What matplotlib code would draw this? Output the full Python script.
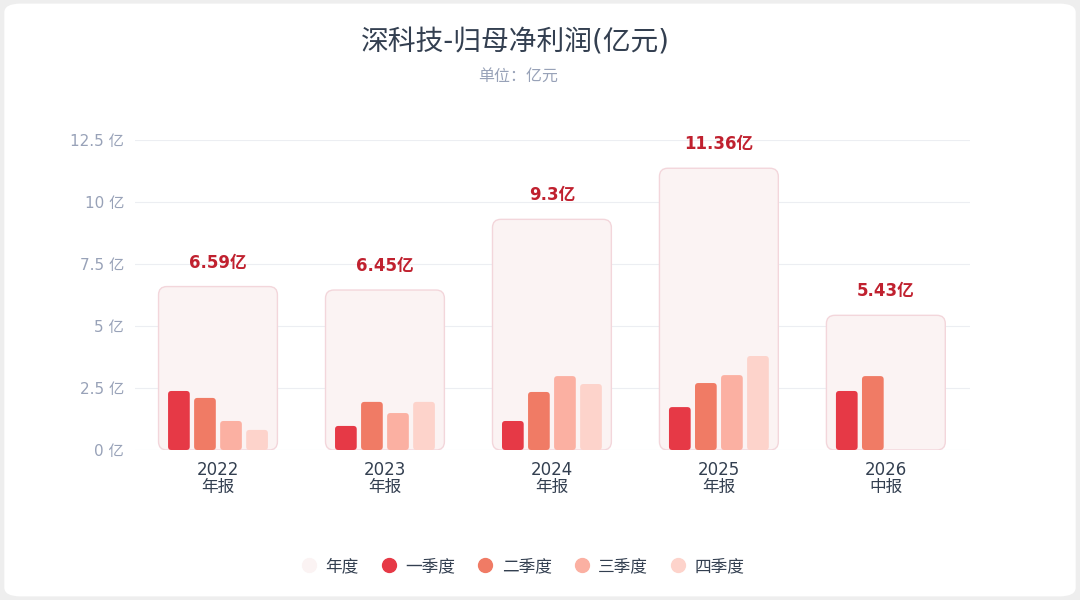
import matplotlib.pyplot as plt
from matplotlib.patches import FancyBboxPatch
from matplotlib.lines import Line2D

plt.rcParams['font.family'] = ['DejaVu Sans', 'Noto Sans CJK SC']

years = ['2022\n年报', '2023\n年报', '2024\n年报', '2025\n年报', '2026\n中报']
annual = [6.59, 6.45, 9.3, 11.36, 5.43]
annual_labels = ['6.59亿', '6.45亿', '9.3亿', '11.36亿', '5.43亿']
q1 = [2.38, 0.97, 1.17, 1.73, 2.38]
q2 = [2.10, 1.94, 2.34, 2.70, 2.98]
q3 = [1.17, 1.49, 2.98, 3.02, None]
q4 = [0.81, 1.94, 2.66, 3.79, None]
series_names = ['一季度', '二季度', '三季度', '四季度']
colors = ['#e63946', '#f07b65', '#fbb0a2', '#fdd3cb']
yticks = [0, 2.5, 5, 7.5, 10, 12.5]
ytick_labels = ['0 亿', '2.5 亿', '5 亿', '7.5 亿', '10 亿', '12.5 亿']

fig = plt.figure(figsize=(10.8, 6), dpi=100)
fig.patch.set_facecolor('#eeeeee')
fig.patches.append(FancyBboxPatch((0.004, 0.006), 0.992, 0.988, boxstyle='round,pad=0,rounding_size=0.015',
                                  transform=fig.transFigure, facecolor='white', edgecolor='none', zorder=-10))
ax = fig.add_axes([0.125, 0.25, 0.773, 0.5167])
ax.set_facecolor('none')
ax.set_xlim(-0.497, 4.503)
ax.set_ylim(0, 12.5)
asp = 167 / 24.8

for i, v in enumerate(annual):
    ax.add_patch(FancyBboxPatch((i - 0.356, 0), 0.712, v, boxstyle='round,pad=0,rounding_size=0.05',
                                mutation_aspect=asp, facecolor='#fbf3f3', edgecolor='#f3d6db', lw=1, zorder=1))
    ax.text(i, v + 0.6, annual_labels[i], ha='center', va='bottom', color='#c0212f',
            fontsize=12, fontweight='bold')

offsets = [-0.234, -0.078, 0.078, 0.234]
for s, vals in enumerate([q1, q2, q3, q4]):
    for i, v in enumerate(vals):
        if v is None:
            continue
        ax.add_patch(FancyBboxPatch((i + offsets[s] - 0.065, 0), 0.13, v,
                                    boxstyle='round,pad=0,rounding_size=0.02', mutation_aspect=asp,
                                    facecolor=colors[s], edgecolor='none', zorder=2))

ax.set_yticks(yticks)
ax.set_yticklabels(ytick_labels, color='#98a2b8', fontsize=11)
ax.set_xticks(range(5))
ax.set_xticklabels(years, color='#333f50', fontsize=12, linespacing=0.95)
ax.tick_params(length=0, pad=8)
ax.grid(axis='y', color='#eceef2', lw=0.8)
ax.set_axisbelow(True)
for sp in ax.spines.values():
    sp.set_visible(False)

fig.text(0.477, 0.93, '深科技-归母净利润(亿元)', ha='center', va='center', fontsize=20, color='#333f50')
fig.text(0.48, 0.873, '单位：亿元', ha='center', va='center', fontsize=11.5, color='#98a2b8')

handles = [Line2D([], [], marker='o', ls='', markersize=10, color='#fbf3f3')]
handles += [Line2D([], [], marker='o', ls='', markersize=10, color=c) for c in colors]
fig.legend(handles, ['年度'] + series_names, loc='center', bbox_to_anchor=(0.48, 0.057), ncol=5,
           frameon=False, fontsize=12, handletextpad=0.0, columnspacing=0.8, labelcolor='#333f50')

fig.savefig('out.png', dpi=100)
